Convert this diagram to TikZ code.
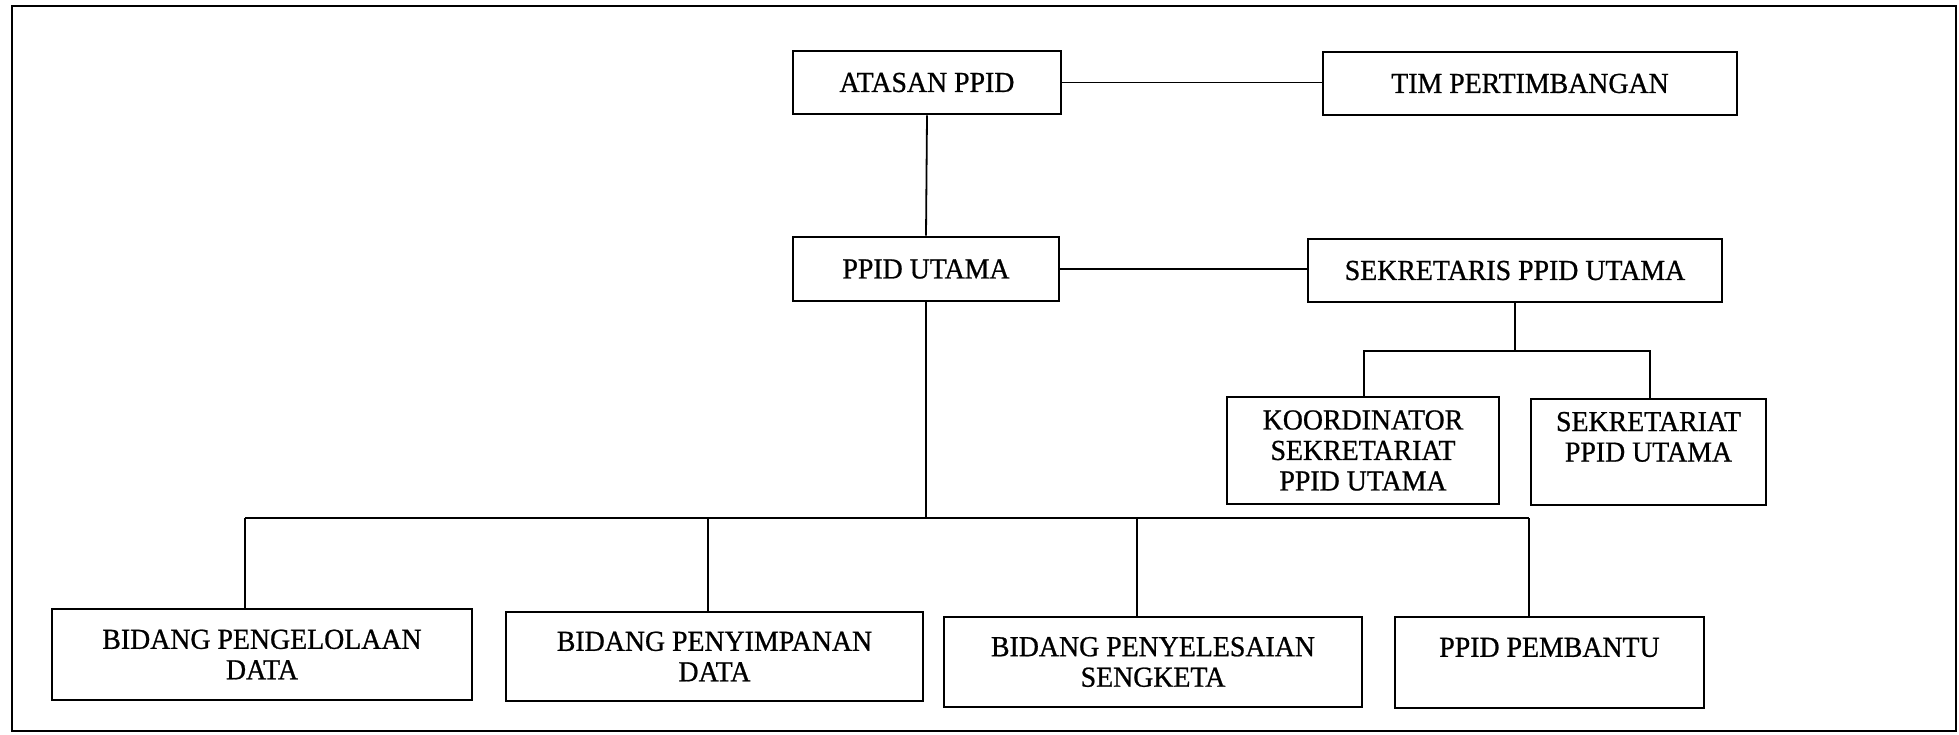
\documentclass[tikz,border=0pt]{standalone}
\usepackage{fontspec}
\setmainfont[FakeStretch=0.96,FakeBold=0.8]{Liberation Serif}
\begin{document}
\begin{tikzpicture}[x=1pt,y=-1pt,
  box/.style={draw,line width=2.6pt,rectangle,inner sep=0pt,align=center,
    font=\fontsize{29}{30.5}\selectfont},
  conn/.style={line width=1.8pt}]
\useasboundingbox (0,0) rectangle (1959,735);
\draw[line width=2pt] (12,6) rectangle (1956,731);
% boxes
\node[box,minimum width=268,minimum height=63] (atasan) at (927,82.5) {ATASAN PPID};
\node[box,minimum width=414,minimum height=63] (tim) at (1530,83.5) {TIM PERTIMBANGAN};
\node[box,minimum width=266,minimum height=64] (utama) at (926,269) {PPID UTAMA};
\node[box,minimum width=414,minimum height=63] (sekr) at (1515,270.5) {SEKRETARIS PPID UTAMA};
\node[box,minimum width=272,minimum height=107] (koord) at (1363,450.5) {KOORDINATOR\\SEKRETARIAT\\PPID UTAMA};
\node[box,minimum width=235,minimum height=106] (sekt) at (1648.5,452) {SEKRETARIAT\\PPID UTAMA\\\mbox{}};
\node[box,minimum width=420,minimum height=91] (b1) at (262,654.5) {BIDANG PENGELOLAAN\\DATA};
\node[box,minimum width=417,minimum height=89] (b2) at (714.5,656.5) {BIDANG PENYIMPANAN\\DATA};
\node[box,minimum width=418,minimum height=90] (b3) at (1153,662) {BIDANG PENYELESAIAN\\SENGKETA};
\node[box,minimum width=309,minimum height=91] (b4) at (1549.5,662.5) {PPID PEMBANTU\\\mbox{}};
% coordinates
\coordinate (sbar) at (1515,351);
\coordinate (sl) at (1364,351);
\coordinate (sr) at (1650,351);
\coordinate (bus) at (926,518);
\coordinate (p1) at (245,518);
\coordinate (p2) at (708,518);
\coordinate (p3) at (1137,518);
\coordinate (p4) at (1529,518);
% connectors
\draw[conn] (atasan.east) -- (tim.west |- atasan.east);
\draw[conn] (atasan.south) -- (utama.north);
\draw[conn] (utama.east) -- (sekr.west |- utama.east);
\draw[conn] (sekr.south) -- (sbar);
\draw[conn] (sl |- koord.north) -- (sl) -- (sr) -- (sr |- sekt.north);
\draw[conn] (utama.south) -- (bus);
\draw[conn] (p1) -- (p4);
\draw[conn] (p1) -- (p1 |- b1.north);
\draw[conn] (p2) -- (p2 |- b2.north);
\draw[conn] (p3) -- (p3 |- b3.north);
\draw[conn] (p4) -- (p4 |- b4.north);
\end{tikzpicture}
\end{document}
